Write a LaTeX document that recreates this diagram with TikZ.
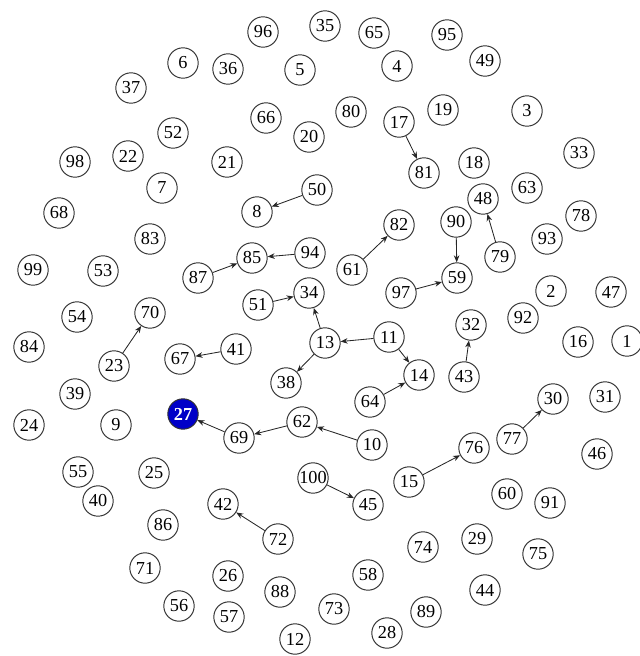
\documentclass[tikz,border=0pt]{standalone}
\usepackage{fontspec}
\setmainfont{Liberation Serif}
\usepackage{xcolor}
\usepackage{tikz}
\usetikzlibrary{arrows.meta}
\definecolor{rootblue}{HTML}{0000C8}

\begin{document}
\begin{tikzpicture}[
    x=0.25mm, y=-0.25mm,
    vertex/.style={circle, draw=black!80, line width=0.7pt, fill=white,
                   minimum size=7.6mm, inner sep=0pt, font=\fontsize{13}{13}\selectfont},
    root/.style={vertex, fill=rootblue, text=white, font=\fontsize{13}{13}\selectfont\bfseries},
    arrow/.style={-{Stealth[length=5pt,width=4pt]}, line width=0.6pt, draw=black!85}
]
\useasboundingbox (0,0) rectangle (640,656);

% Vertices
\node[vertex] at (263,32) (v96) {96};
\node[vertex] at (325,26) (v35) {35};
\node[vertex] at (374,33) (v65) {65};
\node[vertex] at (447,35) (v95) {95};
\node[vertex] at (485,61) (v49) {49};
\node[vertex] at (183,63) (v6) {6};
\node[vertex] at (228,69) (v36) {36};
\node[vertex] at (300,70) (v5) {5};
\node[vertex] at (397,66) (v4) {4};
\node[vertex] at (131,88) (v37) {37};
\node[vertex] at (527,111) (v3) {3};
\node[vertex] at (266,118) (v66) {66};
\node[vertex] at (309,137) (v20) {20};
\node[vertex] at (351,112) (v80) {80};
\node[vertex] at (399,122) (v17) {17};
\node[vertex] at (443,110) (v19) {19};
\node[vertex] at (173,133) (v52) {52};
\node[vertex] at (128,156) (v22) {22};
\node[vertex] at (227,162) (v21) {21};
\node[vertex] at (75,162) (v98) {98};
\node[vertex] at (162,188) (v7) {7};
\node[vertex] at (424,173) (v81) {81};
\node[vertex] at (474,163) (v18) {18};
\node[vertex] at (579,153) (v33) {33};
\node[vertex] at (527,188) (v63) {63};
\node[vertex] at (317,190) (v50) {50};
\node[vertex] at (257,212) (v8) {8};
\node[vertex] at (483,199) (v48) {48};
\node[vertex] at (59,213) (v68) {68};
\node[vertex] at (456,222) (v90) {90};
\node[vertex] at (581,216) (v78) {78};
\node[vertex] at (399,225) (v82) {82};
\node[vertex] at (150,239) (v83) {83};
\node[vertex] at (547,239) (v93) {93};
\node[vertex] at (500,257) (v79) {79};
\node[vertex] at (310,253) (v94) {94};
\node[vertex] at (252,258) (v85) {85};
\node[vertex] at (33,270) (v99) {99};
\node[vertex] at (103,271) (v53) {53};
\node[vertex] at (198,278) (v87) {87};
\node[vertex] at (352,270) (v61) {61};
\node[vertex] at (457,278) (v59) {59};
\node[vertex] at (401,293) (v97) {97};
\node[vertex] at (258,305) (v51) {51};
\node[vertex] at (309,293) (v34) {34};
\node[vertex] at (551,291) (v2) {2};
\node[vertex] at (611,292) (v47) {47};
\node[vertex] at (523,318) (v92) {92};
\node[vertex] at (471,325) (v32) {32};
\node[vertex] at (77,317) (v54) {54};
\node[vertex] at (150,313) (v70) {70};
\node[vertex] at (389,337) (v11) {11};
\node[vertex] at (578,342) (v16) {16};
\node[vertex] at (627,341) (v1) {1};
\node[vertex] at (325,343) (v13) {13};
\node[vertex] at (29,347) (v84) {84};
\node[vertex] at (236,349) (v41) {41};
\node[vertex] at (180,359) (v67) {67};
\node[vertex] at (114,366) (v23) {23};
\node[vertex] at (419,375) (v14) {14};
\node[vertex] at (464,377) (v43) {43};
\node[vertex] at (286,383) (v38) {38};
\node[vertex] at (75,394) (v39) {39};
\node[vertex] at (370,402) (v64) {64};
\node[vertex] at (553,399) (v30) {30};
\node[vertex] at (605,397) (v31) {31};
\node[root] at (183,414) (v27) {27};
\node[vertex] at (116,425) (v9) {9};
\node[vertex] at (29,425) (v24) {24};
\node[vertex] at (302,422) (v62) {62};
\node[vertex] at (239,438) (v69) {69};
\node[vertex] at (372,445) (v10) {10};
\node[vertex] at (474,448) (v76) {76};
\node[vertex] at (512,439) (v77) {77};
\node[vertex] at (597,454) (v46) {46};
\node[vertex] at (78,472) (v55) {55};
\node[vertex] at (154,473) (v25) {25};
\node[vertex] at (98,501) (v40) {40};
\node[vertex] at (313,478) (v100) {100};
\node[vertex] at (368,505) (v45) {45};
\node[vertex] at (409,482) (v15) {15};
\node[vertex] at (507,494) (v60) {60};
\node[vertex] at (550,503) (v91) {91};
\node[vertex] at (223,504) (v42) {42};
\node[vertex] at (163,525) (v86) {86};
\node[vertex] at (278,539) (v72) {72};
\node[vertex] at (423,547) (v74) {74};
\node[vertex] at (477,539) (v29) {29};
\node[vertex] at (538,554) (v75) {75};
\node[vertex] at (145,568) (v71) {71};
\node[vertex] at (228,576) (v26) {26};
\node[vertex] at (368,575) (v58) {58};
\node[vertex] at (280,592) (v88) {88};
\node[vertex] at (485,590) (v44) {44};
\node[vertex] at (179,606) (v56) {56};
\node[vertex] at (229,617) (v57) {57};
\node[vertex] at (334,609) (v73) {73};
\node[vertex] at (426,612) (v89) {89};
\node[vertex] at (387,633) (v28) {28};
\node[vertex] at (295,639) (v12) {12};

% Arrows
\draw[arrow] (v17) -- (v81);
\draw[arrow] (v50) -- (v8);
\draw[arrow] (v94) -- (v85);
\draw[arrow] (v87) -- (v85);
\draw[arrow] (v61) -- (v82);
\draw[arrow] (v90) -- (v59);
\draw[arrow] (v97) -- (v59);
\draw[arrow] (v79) -- (v48);
\draw[arrow] (v51) -- (v34);
\draw[arrow] (v13) -- (v34);
\draw[arrow] (v13) -- (v38);
\draw[arrow] (v11) -- (v13);
\draw[arrow] (v11) -- (v14);
\draw[arrow] (v64) -- (v14);
\draw[arrow] (v43) -- (v32);
\draw[arrow] (v23) -- (v70);
\draw[arrow] (v41) -- (v67);
\draw[arrow] (v10) -- (v62);
\draw[arrow] (v62) -- (v69);
\draw[arrow] (v69) -- (v27);
\draw[arrow] (v100) -- (v45);
\draw[arrow] (v15) -- (v76);
\draw[arrow] (v77) -- (v30);
\draw[arrow] (v72) -- (v42);

\end{tikzpicture}
\end{document}
